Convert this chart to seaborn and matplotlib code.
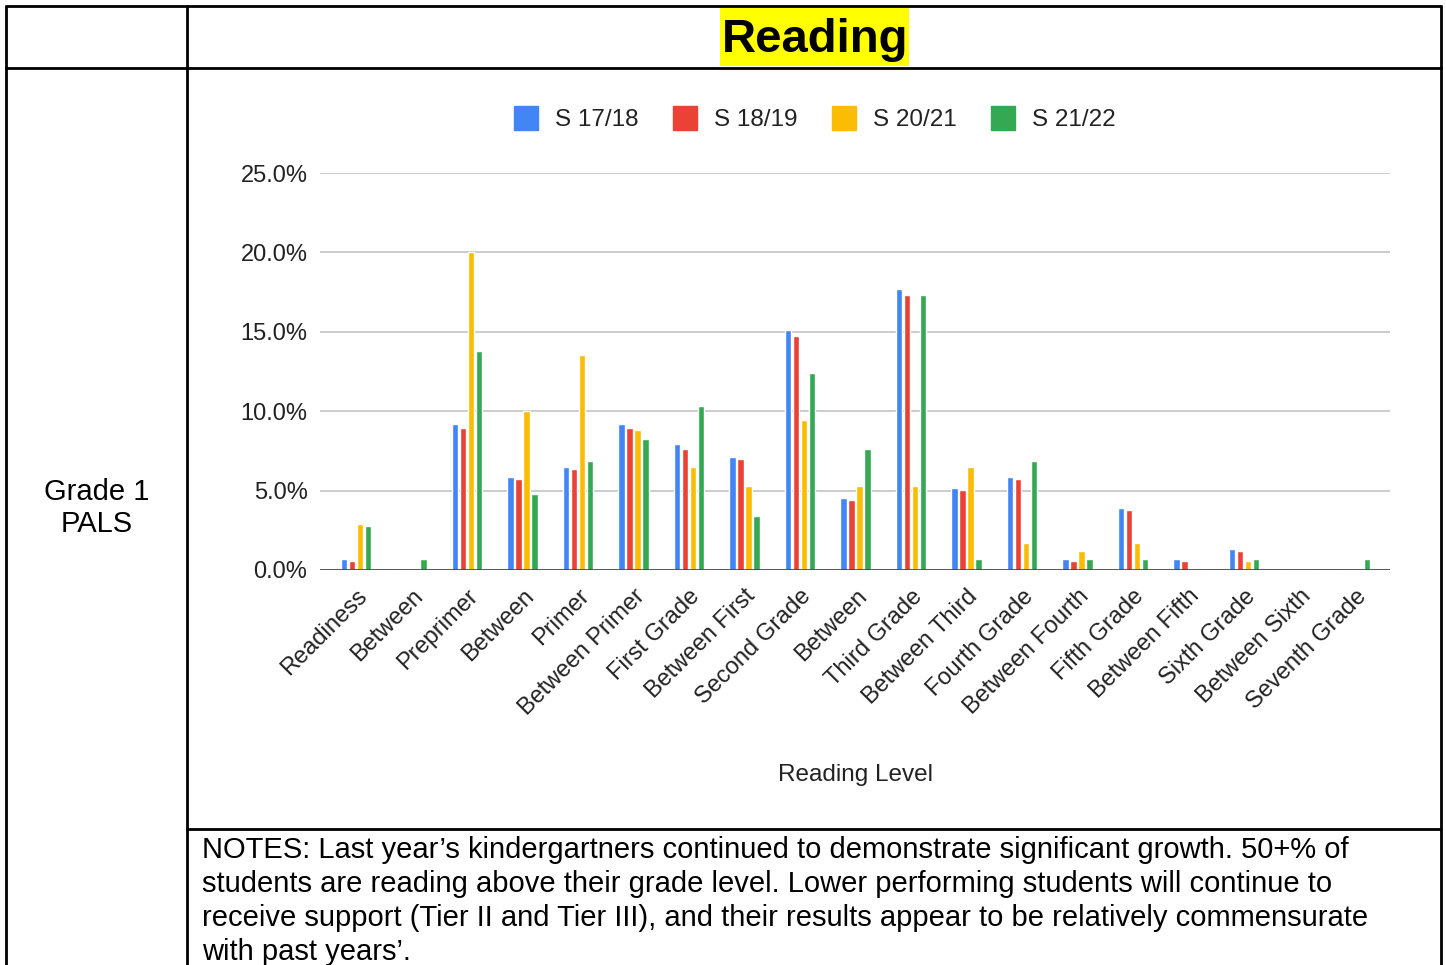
import matplotlib
matplotlib.use("Agg")
import matplotlib.pyplot as plt
from matplotlib.lines import Line2D
from matplotlib.patches import Rectangle
import seaborn as sns
import pandas as pd

levels = ["Readiness", "Between", "Preprimer", "Between ", "Primer", "Between Primer",
          "First Grade", "Between First", "Second Grade", "Between  ", "Third Grade",
          "Between Third", "Fourth Grade", "Between Fourth", "Fifth Grade", "Between Fifth",
          "Sixth Grade", "Between Sixth", "Seventh Grade"]
seasons = ["S 17/18", "S 18/19", "S 20/21", "S 21/22"]

s_17_18 = [0.67, 0.0, 9.17, 5.83, 6.46, 9.17, 7.91, 7.12, 15.09, 4.53, 17.68,
           5.18, 5.83, 0.67, 3.90, 0.67, 1.34, 0.0, 0.0]
s_18_19 = [0.55, 0.0, 8.92, 5.71, 6.34, 8.92, 7.64, 6.99, 14.71, 4.41, 17.30,
           5.06, 5.71, 0.55, 3.78, 0.55, 1.20, 0.0, 0.0]
s_20_21 = [2.88, 0.0, 20.0, 10.0, 13.56, 8.80, 6.46, 5.31, 9.43, 5.31, 5.31,
           6.46, 1.70, 1.20, 1.70, 0.0, 0.55, 0.0, 0.0]
s_21_22 = [2.75, 0.67, 13.80, 4.78, 6.86, 8.27, 10.33, 3.38, 12.38, 7.62, 17.30,
           0.67, 6.86, 0.67, 0.67, 0.0, 0.67, 0.0, 0.67]

colors = ["#4285F4", "#EA4335", "#FBBC04", "#34A853"]

notes_lines = [
    "NOTES: Last year\u2019s kindergartners continued to demonstrate significant growth. 50+% of",
    "students are reading above their grade level. Lower performing students will continue to",
    "receive support (Tier II and Tier III), and their results appear to be relatively commensurate",
    "with past years\u2019.",
]

rows = []
for name, vals in zip(seasons, [s_17_18, s_18_19, s_20_21, s_21_22]):
    for lvl, v in zip(levels, vals):
        rows.append({"level": lvl, "season": name, "pct": v})
df = pd.DataFrame(rows)

sns.set_style("white")
plt.rcParams["font.family"] = ["Liberation Sans", "DejaVu Sans"]

W, H = 1446, 965
fig = plt.figure(figsize=(W / 100, H / 100), dpi=100)
ax = fig.add_axes([320 / W, 1 - 570 / H, 1070 / W, 397 / H])

sns.barplot(data=df, x="level", y="pct", hue="season", order=levels, hue_order=seasons,
            palette=colors, width=0.58, gap=0.2, ax=ax, legend=False, saturation=1)

ax.set_ylim(0, 25)
ax.set_xlim(-0.65, 18.63)
ax.set_yticks([0, 5, 10, 15, 20, 25])
ax.set_yticklabels([f"{t:.1f}%" for t in [0, 5, 10, 15, 20, 25]])
ax.yaxis.grid(True, color="#c8c8c8", linewidth=1.3)
ax.set_axisbelow(True)
for s in ax.spines.values():
    s.set_visible(False)
ax.axhline(0, color="#333333", linewidth=1.8, zorder=5)
ax.tick_params(axis="y", length=0, pad=9, labelsize=17, labelcolor="#222222")
ax.tick_params(axis="x", length=0, pad=11, labelsize=17, labelcolor="#222222")
ax.set_xticks(range(len(levels)))
ax.set_xticklabels([l.strip() for l in levels], rotation=45, ha="right", va="top",
                   rotation_mode="anchor")
ax.set_xlabel("Reading Level", fontsize=17.5, color="#222222", labelpad=0)
ax.xaxis.label.set_verticalalignment("center")
ax.xaxis.set_label_coords(0.5, -(775 - 570) / 397)
ax.set_ylabel("")

# legend
handles = [Line2D([], [], marker="s", linestyle="none", markersize=17,
                  markerfacecolor=c, markeredgecolor=c) for c in colors]
fig.legend(handles, seasons, loc="center", bbox_to_anchor=(815 / W, 1 - 120 / H), ncol=4,
           frameon=False, fontsize=17.5, handlelength=1.0, handletextpad=0.7,
           columnspacing=1.4, labelcolor="#222222")

# table lines
lw = 2
def fline(x0, y0, x1, y1):
    fig.add_artist(Line2D([x0 / W, x1 / W], [1 - y0 / H, 1 - y1 / H], color="black",
                          linewidth=lw))
fline(6, 6, 1441, 6)
fline(6, 68, 1441, 68)
fline(6, 6, 6, 965)
fline(187, 6, 187, 965)
fline(1441, 6, 1441, 965)
fline(187, 829, 1441, 829)

# title with highlight
fig.add_artist(Rectangle((720 / W, 1 - 66 / H), 189 / W, 58 / H, facecolor="#FFFF00",
                         edgecolor="none", transform=fig.transFigure))
fig.text(815 / W, 1 - 40 / H, "Reading", ha="center", va="center", fontsize=34,
         fontweight="bold", color="black")

fig.text(97 / W, 1 - 508 / H, "Grade 1\nPALS", ha="center", va="center", fontsize=21,
         linespacing=1.15, color="black")

for i, line in enumerate(notes_lines):
    fig.text(202 / W, 1 - (858 + 34 * i) / H, line, ha="left", va="baseline", fontsize=21,
             color="black")

fig.savefig("out.png", dpi=100)
